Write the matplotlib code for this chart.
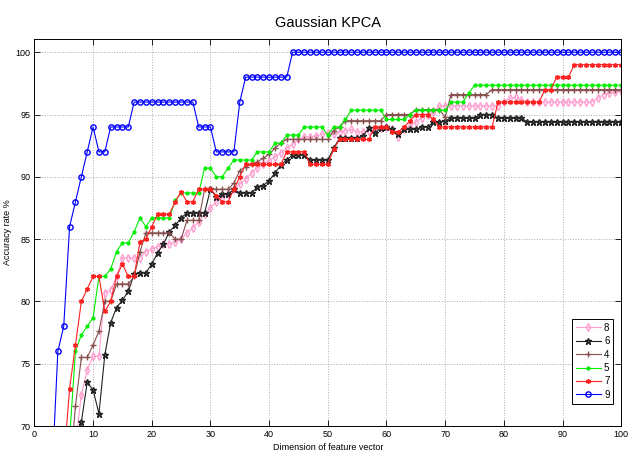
import numpy as np
import matplotlib
matplotlib.use("Agg")
import matplotlib.pyplot as plt

nan = np.nan

# feature dimension 1..100
dims = list(range(1, 101))

acc_9 = [nan, nan, 66, 76, 78, 86, 88, 90, 92, 94,
         92, 92, 94, 94, 94, 94, 96, 96, 96, 96,
         96, 96, 96, 96, 96, 96, 96, 94, 94, 94,
         92, 92, 92, 92, 96, 98, 98, 98, 98, 98,
         98, 98, 98, 100, 100, 100, 100, 100, 100, 100,
         100, 100, 100, 100, 100, 100, 100, 100, 100, 100,
         100, 100, 100, 100, 100, 100, 100, 100, 100, 100,
         100, 100, 100, 100, 100, 100, 100, 100, 100, 100,
         100, 100, 100, 100, 100, 100, 100, 100, 100, 100,
         100, 100, 100, 100, 100, 100, 100, 100, 100, 100]

acc_7 = [nan, nan, nan, nan, 67, 73, 76.5, 80, 81, 82,
         82, 79.2, 80, 82, 83, 82, 82, 84.8, 85, 86,
         87, 87, 87, 88, 88.8, 88, 88, 89, 89, 89,
         88.5, 88, 88, 89, 90, 91, 91, 91, 91, 91,
         91, 91, 92, 92, 92, 92, 91, 91, 91, 91,
         92.2, 93, 93, 93, 93, 93, 93, 94, 94, 94,
         93.6, 93.6, 94, 94.5, 95, 95, 95, 94.6, 94, 94,
         94, 94, 94, 94, 94, 94, 94, 94, 96, 96,
         96, 96, 96, 96, 96, 96, 97, 97, 98, 98,
         98, 99, 99, 99, 99, 99, 99, 99, 99, 99]

acc_5 = [nan, nan, nan, nan, nan, 69, 76, 77.3, 78, 78.7,
         82, 82, 82.6, 84, 84.7, 84.7, 85.6, 86.7, 86, 86.7,
         86.7, 86.7, 86.7, 88.1, 88.7, 88.7, 88.7, 88.7, 90.7, 90.7,
         90, 90, 90.7, 91.35, 91.35, 91.35, 91.35, 92, 92, 92,
         92.7, 92.7, 93.35, 93.35, 93.35, 94, 94, 94, 94, 93.35,
         94, 94, 94.6, 95.35, 95.35, 95.35, 95.35, 95.35, 95.35, 94.6,
         94.6, 94.6, 94.6, 95, 95.35, 95.35, 95.35, 95.35, 95.35, 95.35,
         96, 96, 96, 96.7, 97.35, 97.35, 97.35, 97.35, 97.35, 97.35,
         97.35, 97.35, 97.35, 97.35, 97.35, 97.35, 97.35, 97.35, 97.35, 97.35,
         97.35, 97.35, 97.35, 97.35, 97.35, 97.35, 97.35, 97.35, 97.35, 97.35]

acc_4 = [nan, nan, nan, nan, nan, 66, 71.6, 75.5, 75.5, 76.5,
         77.6, 80, 80, 81.4, 81.4, 81.4, 82, 84, 85.5, 85.5,
         85.5, 85.5, 85.5, 85, 85, 86.5, 86.5, 86.5, 89, 89,
         89, 89, 89, 89.5, 90.5, 90.8, 91, 91.2, 91.5, 91.8,
         92.3, 92.7, 93, 93, 93, 93, 93, 93, 93, 93,
         93.7, 94, 94.5, 94.5, 94.5, 94.5, 94.5, 94.5, 94.5, 95,
         95, 95, 95, 95, 95.4, 95.4, 95.4, 95.4, 95.4, 94.8,
         96.6, 96.6, 96.6, 96.6, 96.6, 96.6, 96.6, 97, 97, 97,
         97, 97, 97, 97, 97, 97, 97, 97, 97, 97,
         97, 97, 97, 97, 97, 97, 97, 97, 97, 97]

acc_6 = [nan, nan, nan, nan, nan, nan, 66, 70.3, 73.5, 72.9,
         71, 75.7, 78.3, 79.5, 80.1, 80.8, 82.2, 82.3, 82.3, 83,
         83.9, 84.6, 85.6, 86.1, 86.7, 87.1, 87.1, 87.1, 87.1, 89,
         88.4, 88.6, 88.6, 89, 88.7, 88.7, 88.7, 89.2, 89.3, 89.7,
         90.3, 90.95, 91.35, 91.75, 91.75, 91.75, 91.35, 91.35, 91.35, 91.35,
         92.3, 93.1, 93.1, 93.1, 93.1, 93.3, 93.9, 93.5, 93.9, 94,
         93.8, 93.4, 93.8, 93.8, 93.8, 94, 94, 94.4, 94.4, 94.5,
         94.7, 94.7, 94.7, 94.7, 94.7, 95, 95, 95, 94.7, 94.7,
         94.7, 94.7, 94.7, 94.4, 94.4, 94.4, 94.4, 94.4, 94.4, 94.4,
         94.4, 94.4, 94.4, 94.4, 94.4, 94.4, 94.4, 94.4, 94.4, 94.4]

acc_8 = [nan, nan, nan, nan, nan, nan, 68.5, 72.5, 74.5, 75.6,
         75.6, 80.7, 80.9, 82, 83.5, 83.5, 83.5, 83.5, 84, 84.2,
         84.4, 84.6, 84.6, 84.8, 85, 85.5, 85.9, 86.4, 87, 87.5,
         88, 88.3, 88.6, 89, 89.4, 89.8, 90.3, 90.7, 91, 91.3,
         91.6, 91.9, 92.3, 92.6, 93, 93.2, 93.2, 93.3, 93.4, 93.5,
         93.4, 93.6, 93.7, 93.8, 93.6, 93.6, 93.7, 93.8, 93.9, 94,
         93.8, 93.2, 93.8, 94.1, 94.4, 94.7, 95, 95.2, 95.7, 95.7,
         95.7, 95.7, 95.7, 95.7, 95.7, 95.7, 95.7, 95.7, 95.7, 96,
         96.3, 96.4, 96.2, 96, 96, 96, 96, 96, 96, 96,
         96, 96, 96, 96, 96, 96.3, 96.6, 96.7, 96.8, 96.9]

plt.rcParams['font.family'] = ['Liberation Sans Narrow', 'Liberation Sans', 'DejaVu Sans']

fig = plt.figure(figsize=(6.31, 4.55), dpi=100)
ax = fig.add_axes([0.0545, 0.0637, 0.930, 0.8503])

asterisk = (6, 2, 0)
ax.plot(dims, acc_8, color='#ff9fcf', marker='d', mfc='none', ms=3.8, lw=0.8, label='8')
ax.plot(dims, acc_6, color='#222222', marker='*', mfc='#555555', ms=4.5, lw=0.8, label='6')
ax.plot(dims, acc_4, color='#86504f', marker='+', ms=4.5, lw=0.8, label='4')
ax.plot(dims, acc_5, color='#00ee00', marker='.', ms=4, lw=0.8, label='5')
ax.plot(dims, acc_7, color='#ff2020', marker=asterisk, ms=3.5, lw=0.8, label='7')
ax.plot(dims, acc_9, color='#0000ff', marker='o', mfc='none', ms=3.8, lw=0.8, label='9')

ax.set_xlim(0, 100)
ax.set_ylim(70, 101.05)
ax.set_xticks(range(0, 101, 10))
ax.set_yticks(range(70, 101, 5))
ax.tick_params(direction='in', top=True, right=True, labelsize=6.5, length=4, width=0.6, pad=3)
ax.grid(True, linestyle=':', color='#aaaaaa', linewidth=0.7)
for s in ax.spines.values():
    s.set_linewidth(0.7)

ax.set_title('Gaussian KPCA', fontsize=10.5, pad=9)
ax.set_xlabel('Dimension of feature vector', fontsize=6.5, labelpad=3)
ax.set_ylabel('Accuracy rate %', fontsize=6.5, labelpad=2)

leg = ax.legend(loc='lower right', bbox_to_anchor=(0.995, 0.045), fontsize=7,
                frameon=True, fancybox=False, edgecolor='black', framealpha=1,
                handlelength=2.6, handletextpad=0.3, labelspacing=0.35,
                borderpad=0.4)
leg.get_frame().set_linewidth(0.7)

fig.savefig('out.png', dpi=100)
